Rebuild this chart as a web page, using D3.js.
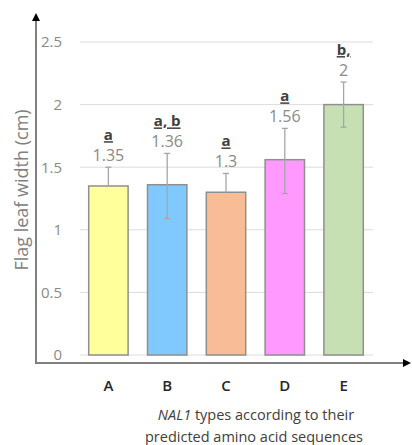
<!DOCTYPE html>
<html>
<head>
<meta charset="utf-8">
<script src="https://cdn.jsdelivr.net/npm/d3@7"></script>
<style>
  body { margin: 0; background: #fff; }
  text { font-family: "Open Sans", "Noto Sans", sans-serif; }
</style>
</head>
<body>
<svg id="chart"></svg>
<script>
// chart values
const types = ["A", "B", "C", "D", "E"];
const widths = [1.35, 1.36, 1.3, 1.56, 2];
const errUp = [0.15, 0.25, 0.15, 0.25, 0.18];
const errDown = [0, 0.27, 0, 0.27, 0.18];
const groups = ["a", "a, b", "a", "a", "b,"];
const colors = ["#FFFF9C", "#80C9FF", "#F8BD96", "#FF99FF", "#C6E0B4"];
const yTicks = [0, 0.5, 1, 1.5, 2, 2.5];

const width = 412, height = 445;
const svg = d3.select("#chart")
    .attr("width", width)
    .attr("height", height)
    .attr("viewBox", [0, 0, width, height]);

// scales
const x_scale = d3.scaleBand().domain(types).range([79, 373])
    .paddingInner(0.33).paddingOuter(0.165);
const y_scale = d3.scaleLinear().domain([0, 2.5]).range([355, 42]);

// arrow marker
svg.append("defs").append("marker")
    .attr("id", "arrow")
    .attr("viewBox", "0 0 10 10")
    .attr("refX", 5).attr("refY", 5)
    .attr("markerWidth", 4).attr("markerHeight", 4)
    .attr("orient", "auto")
    .append("path")
    .attr("d", "M0,0 L10,5 L0,10 z")
    .attr("fill", "#000");

// gridlines
svg.append("g").selectAll("line")
    .data(yTicks)
    .join("line")
    .attr("x1", 80).attr("x2", 373)
    .attr("y1", d => y_scale(d)).attr("y2", d => y_scale(d))
    .attr("stroke", "#dcdcdc")
    .attr("stroke-width", 1);

// y tick labels
const y_axis = d3.axisLeft(y_scale).tickValues(yTicks).tickSize(0).tickPadding(0)
    .tickFormat(d => String(d));
const gY = svg.append("g")
    .attr("transform", "translate(62,0)")
    .call(y_axis);
gY.select(".domain").remove();
gY.selectAll("text")
    .style("font-size", "15px")
    .attr("fill", "#8a8a8a");

// bars
svg.append("g").selectAll("rect")
    .data(types)
    .join("rect")
    .attr("x", d => x_scale(d))
    .attr("y", (d, i) => y_scale(widths[i]))
    .attr("width", x_scale.bandwidth())
    .attr("height", (d, i) => y_scale(0) - y_scale(widths[i]))
    .attr("fill", (d, i) => colors[i])
    .attr("stroke", "#8f8f8f")
    .attr("stroke-width", 1.5);

// error bars
const gErr = svg.append("g").attr("stroke", "#a6a6a6").attr("stroke-width", 1.3);
types.forEach((t, i) => {
    const cx = x_scale(t) + x_scale.bandwidth() / 2;
    const top = y_scale(widths[i] + errUp[i]);
    const bot = y_scale(widths[i] - errDown[i]);
    gErr.append("line")
        .attr("x1", cx).attr("x2", cx)
        .attr("y1", top).attr("y2", bot);
    gErr.append("line")
        .attr("x1", cx - 3).attr("x2", cx + 3)
        .attr("y1", top).attr("y2", top);
    if (errDown[i] > 0) {
        gErr.append("line")
            .attr("x1", cx - 3).attr("x2", cx + 3)
            .attr("y1", bot).attr("y2", bot);
    }
});

// value and group labels
const gLab = svg.append("g").attr("text-anchor", "middle");
types.forEach((t, i) => {
    const cx = x_scale(t) + x_scale.bandwidth() / 2;
    const top = y_scale(widths[i] + errUp[i]);
    gLab.append("text")
        .attr("x", cx).attr("y", top - 6)
        .attr("fill", "#8a8a8a")
        .style("font-size", "16px")
        .text(String(widths[i]));
    gLab.append("text")
        .attr("x", cx).attr("y", top - 27)
        .attr("fill", "#404040")
        .style("font-size", "15px")
        .style("font-weight", "bold")
        .style("text-decoration", "underline")
        .text(groups[i]);
});

// axes lines
svg.append("line")
    .attr("x1", 36).attr("y1", 363).attr("x2", 36).attr("y2", 17)
    .attr("stroke", "#808080").attr("stroke-width", 2)
    .attr("marker-end", "url(#arrow)");
svg.append("line")
    .attr("x1", 35).attr("y1", 363).attr("x2", 407).attr("y2", 363)
    .attr("stroke", "#808080").attr("stroke-width", 2)
    .attr("marker-end", "url(#arrow)");

// x labels
svg.append("g").selectAll("text")
    .data(types)
    .join("text")
    .attr("x", d => x_scale(d) + x_scale.bandwidth() / 2)
    .attr("y", 391)
    .attr("text-anchor", "middle")
    .attr("fill", "#262626")
    .style("font-size", "15px")
    .style("font-weight", "600")
    .text(d => d);

// x title
const xTitle = svg.append("text")
    .attr("text-anchor", "middle")
    .attr("fill", "#404040")
    .style("font-size", "14.5px");
xTitle.append("tspan").attr("x", 256).attr("y", 420)
    .call(s => s.append("tspan").style("font-style", "italic").text("NAL1"))
    .call(s => s.append("tspan").text(" types according to their"));
xTitle.append("tspan").attr("x", 254).attr("y", 442)
    .text("predicted amino acid sequences");

// y title
svg.append("text")
    .attr("transform", "translate(28,190) rotate(-90)")
    .attr("text-anchor", "middle")
    .attr("fill", "#808080")
    .style("font-size", "18px")
    .text("Flag leaf width (cm)");
</script>
</body>
</html>
